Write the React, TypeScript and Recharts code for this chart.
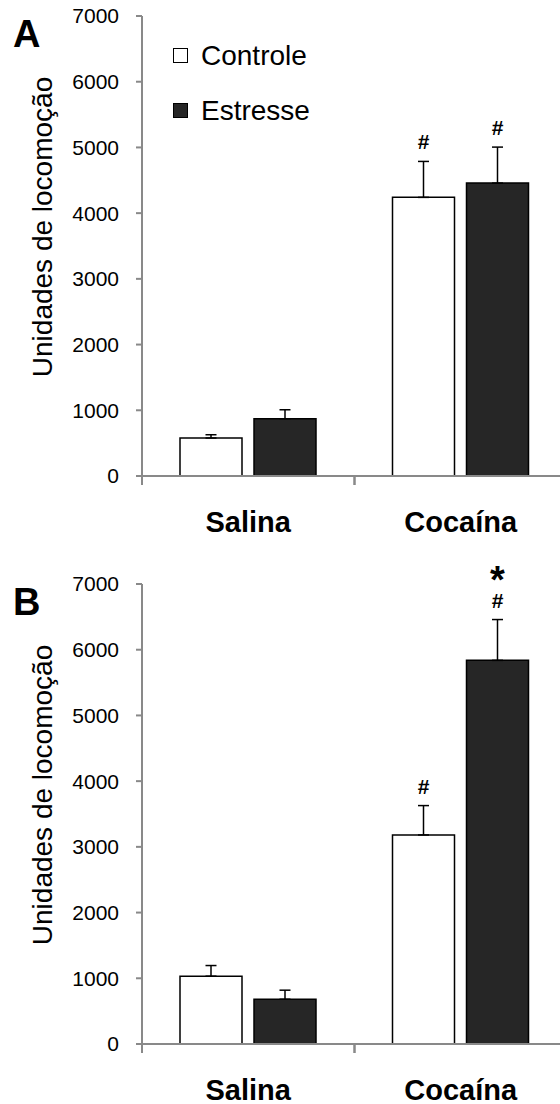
import React from 'react';
import {
  BarChart,
  Bar,
  XAxis,
  YAxis,
  ErrorBar,
  LabelList,
  Legend,
  Label
} from 'recharts';

// categories and tick values
const categories = ['Salina', 'Cocaína'];
const yTicks = [0, 1000, 2000, 3000, 4000, 5000, 6000, 7000];

// Panel A
const controleA = [578, 4240];
const controleErrA = [50, 547];
const estresseA = [871, 4457];
const estresseErrA = [137, 548];
const hashControleA = ['', '#'];
const hashEstresseA = ['', '#'];

// Panel B
const controleB = [1032, 3181];
const controleErrB = [162, 447];
const estresseB = [681, 5838];
const estresseErrB = [138, 621];
const hashControleB = ['', '#'];
const hashEstresseB = ['', '#'];
const starEstresseB = ['', '*'];

const FONT = '"Liberation Sans", Arial, sans-serif';
const AXIS = '#898989';

const buildRows = (ctl: number[], ctlErr: number[], est: number[], estErr: number[]) =>
  categories.map((cat, i) => ({
    cat,
    controle: ctl[i],
    controleErr: [0, ctlErr[i]],
    estresse: est[i],
    estresseErr: [0, estErr[i]],
  }));

// marks (# and *) sit above the error bar
const makeMarks = (vals: number[], errs: number[], hashes: string[], stars?: string[]) => (props: any) => {
  const index = props.index;
  const vb = props.viewBox || props;
  const { x, y, width, height } = vb;
  const h = hashes[index];
  const s = stars ? stars[index] : '';
  if (!h && !s) return null;
  const errTop = y - errs[index] * (height / vals[index]);
  const cx = x + width / 2;
  return (
    <g>
      {h && (
        <text x={cx} y={errTop - 12} textAnchor="middle" fontSize={21} fontWeight="bold" fontFamily={FONT} fill="#000">
          {h}
        </text>
      )}
      {s && (
        <text x={cx} y={errTop - 27} textAnchor="middle" fontSize={38} fontWeight="bold" fontFamily={FONT} fill="#000">
          {s}
        </text>
      )}
    </g>
  );
};

const CatTick = (props: any) => {
  const { x, y, payload } = props;
  const off = payload.offset || 0;
  return (
    <g>
      <line x1={x - off} y1={y} x2={x - off} y2={y + 9} stroke={AXIS} strokeWidth={2} />
      <line x1={x + off} y1={y} x2={x + off} y2={y + 9} stroke={AXIS} strokeWidth={2} />
      <text x={x} y={y + 56} textAnchor="middle" fontSize={29} fontWeight="bold" fontFamily={FONT} fill="#000">
        {payload.value}
      </text>
    </g>
  );
};

const YLabel = (props: any) => {
  const vb = props.viewBox;
  const cx = vb.x + 52;
  const cy = vb.y + vb.height - 249;
  return (
    <text x={cx} y={cy} transform={`rotate(-90 ${cx} ${cy})`} textAnchor="middle" fontSize={28} fontFamily={FONT} fill="#000">
      Unidades de locomoção
    </text>
  );
};

const LegendBox = ({ payload }: any) => (
  <div style={{ fontFamily: FONT, fontSize: 28, color: '#000' }}>
    {(payload || []).map((p: any) => (
      <div key={p.value} style={{ display: 'flex', alignItems: 'center', height: 55 }}>
        <span
          style={{
            display: 'inline-block',
            width: 13,
            height: 13,
            background: p.color,
            border: '1px solid #000',
            marginRight: 13,
          }}
        />
        <span>{p.value}</span>
      </div>
    ))}
  </div>
);

interface PanelProps {
  letter: string;
  top: number;
  ctl: number[];
  ctlErr: number[];
  est: number[];
  estErr: number[];
  hashCtl: string[];
  hashEst: string[];
  starEst?: string[];
  showLegend?: boolean;
}

const Panel: React.FC<PanelProps> = ({ letter, top, ctl, ctlErr, est, estErr, hashCtl, hashEst, starEst, showLegend }) => {
  const data = buildRows(ctl, ctlErr, est, estErr);
  const h = top + 460 + 60 + 9;
  return (
    <div style={{ position: 'relative', width: 570, height: h }}>
      <BarChart width={570} height={h} data={data} margin={{ top, right: 3, left: 0, bottom: 9 }} barSize={62} barGap={12}>
        <XAxis
          dataKey="cat"
          height={60}
          axisLine={{ stroke: AXIS, strokeWidth: 2 }}
          tickLine={false}
          tickSize={0}
          tickMargin={0}
          interval={0}
          tick={<CatTick />}
        />
        <YAxis
          domain={[0, 7000]}
          ticks={yTicks}
          interval={0}
          width={142}
          tickSize={6}
          tickMargin={17}
          axisLine={{ stroke: AXIS, strokeWidth: 2 }}
          tickLine={{ stroke: AXIS, strokeWidth: 2 }}
          tick={{ fill: '#000', fontSize: 21, fontFamily: FONT }}
        >
          <Label content={<YLabel />} />
        </YAxis>
        {showLegend && (
          <Legend
            layout="vertical"
            align="center"
            verticalAlign="middle"
            content={<LegendBox />}
            wrapperStyle={{ left: 173, top: top + 12, width: 'auto' }}
          />
        )}
        <Bar dataKey="controle" name="Controle" fill="#ffffff" stroke="#000" strokeWidth={1.5} isAnimationActive={false}>
          <ErrorBar dataKey="controleErr" direction="y" width={5.5} stroke="#000" strokeWidth={1.5} isAnimationActive={false} />
          <LabelList dataKey="controle" content={makeMarks(ctl, ctlErr, hashCtl)} />
        </Bar>
        <Bar dataKey="estresse" name="Estresse" fill="#262626" stroke="#000" strokeWidth={1.5} isAnimationActive={false}>
          <ErrorBar dataKey="estresseErr" direction="y" width={5.5} stroke="#000" strokeWidth={1.5} isAnimationActive={false} />
          <LabelList dataKey="estresse" content={makeMarks(est, estErr, hashEst, starEst)} />
        </Bar>
      </BarChart>
      <svg width={60} height={top + 40} style={{ position: 'absolute', left: 0, top: 0 }}>
        <text x={13} y={top + 31} fontSize={38} fontWeight="bold" fontFamily={FONT} fill="#000">
          {letter}
        </text>
      </svg>
    </div>
  );
};

export default function App() {
  return (
    <div style={{ position: 'absolute', left: 0, top: 0, width: 560, height: 1104, background: '#fff', overflow: 'hidden' }}>
      <div style={{ position: 'absolute', left: 0, top: 0 }}>
        <Panel
          letter="A"
          top={16}
          ctl={controleA}
          ctlErr={controleErrA}
          est={estresseA}
          estErr={estresseErrA}
          hashCtl={hashControleA}
          hashEst={hashEstresseA}
          showLegend
        />
      </div>
      <div style={{ position: 'absolute', left: 0, top: 548 }}>
        <Panel
          letter="B"
          top={36}
          ctl={controleB}
          ctlErr={controleErrB}
          est={estresseB}
          estErr={estresseErrB}
          hashCtl={hashControleB}
          hashEst={hashEstresseB}
          starEst={starEstresseB}
        />
      </div>
    </div>
  );
}
